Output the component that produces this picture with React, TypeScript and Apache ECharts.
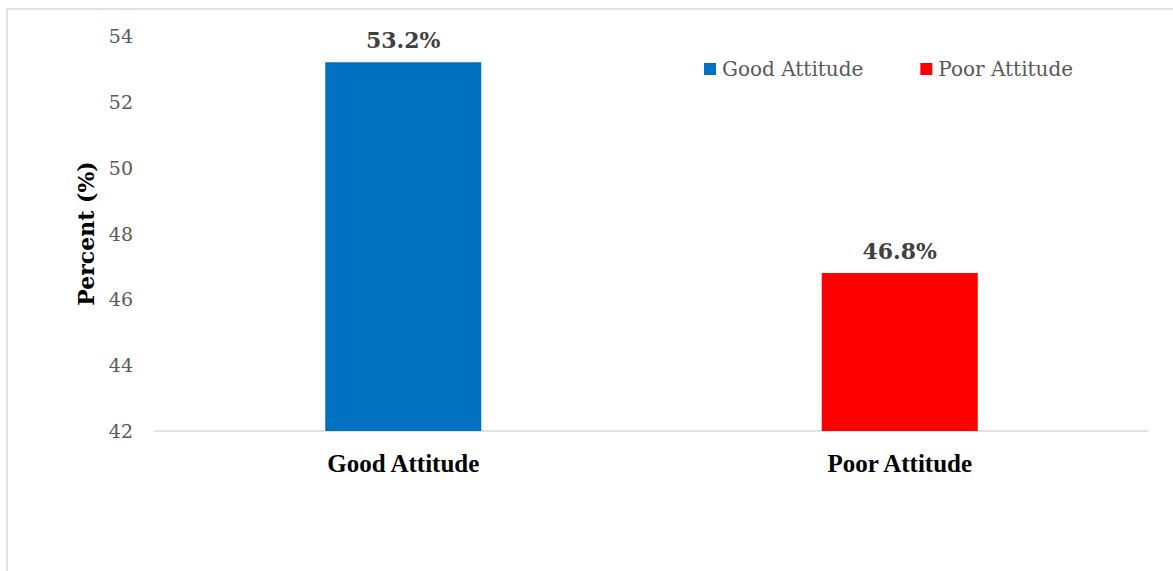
import React, { useEffect, useRef } from "react";
import * as echarts from "echarts";

const categories = ["Good Attitude", "Poor Attitude"];
const seriesNames = ["Good Attitude", "Poor Attitude"];
const goodValues: (number | string)[] = [53.2, "-"];
const poorValues: (number | string)[] = ["-", 46.8];
const yMin = 42;
const yMax = 54;
const yInterval = 2;
const colors = ["#0070C0", "#FF0000"];

export default function App() {
  const ref = useRef<HTMLDivElement>(null);
  useEffect(() => {
    if (!ref.current) return;
    const chart = echarts.init(ref.current, undefined, { renderer: "svg" });
    const label = {
      show: true,
      position: "top" as const,
      distance: 11,
      formatter: "{c}%",
      fontFamily: "DejaVu Serif",
      fontWeight: "bold" as const,
      fontSize: 22,
      color: "#404040",
    };
    chart.setOption({
      animation: false,
      backgroundColor: "#ffffff",
      graphic: [
        {
          type: "rect",
          shape: { x: 7, y: 9, width: 1300, height: 700 },
          style: { fill: "none", stroke: "#d9d9d9", lineWidth: 1.5 },
          silent: true,
        },
      ],
      legend: {
        left: 699,
        top: 54,
        itemWidth: 12,
        itemHeight: 12,
        itemGap: 57,
        icon: "rect",
        data: seriesNames,
        textStyle: { fontFamily: "DejaVu Serif", fontSize: 20, color: "#595959", padding: [0, 0, 0, 1] },
      },
      grid: { left: 155, right: 25, top: 36, bottom: 140 },
      xAxis: {
        type: "category",
        data: categories,
        axisLine: { lineStyle: { color: "#d9d9d9", width: 1.5 } },
        axisTick: { show: false },
        axisLabel: {
          margin: 20,
          fontFamily: "Liberation Serif",
          fontWeight: "bold",
          fontSize: 25,
          color: "#000000",
        },
      },
      yAxis: {
        type: "value",
        min: yMin,
        max: yMax,
        interval: yInterval,
        name: "Percent (%)",
        nameLocation: "middle",
        nameGap: 58,
        nameTextStyle: { fontFamily: "DejaVu Serif", fontWeight: "bold", fontSize: 22, color: "#000000" },
        splitLine: { show: false },
        axisLine: { show: false },
        axisTick: { show: false },
        axisLabel: { margin: 22, fontFamily: "DejaVu Serif", fontSize: 19, color: "#595959" },
      },
      series: [
        {
          name: seriesNames[0],
          type: "bar",
          data: goodValues,
          barWidth: 156,
          barGap: "-100%",
          itemStyle: { color: colors[0] },
          label,
        },
        {
          name: seriesNames[1],
          type: "bar",
          data: poorValues,
          barWidth: 156,
          barGap: "-100%",
          itemStyle: { color: colors[1] },
          label,
        },
      ],
    });
    return () => chart.dispose();
  }, []);
  return (
    <div
      ref={ref}
      style={{ position: "fixed", left: 0, top: 0, width: 1173, height: 571 }}
    />
  );
}
